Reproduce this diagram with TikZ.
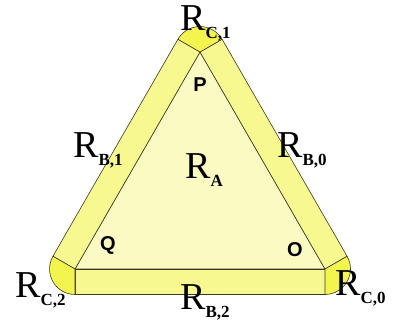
\documentclass[tikz,border=0pt]{standalone}
\usepackage{fontspec}
\setmainfont{Liberation Serif}
\newfontfamily\lblsans{Liberation Sans}
\usepackage{xcolor}
\usepackage{tikz}
\usetikzlibrary{calc}
\definecolor{innerYellow}{HTML}{FAFAC2}
\definecolor{bandYellow}{HTML}{F8F890}
\definecolor{capYellow}{HTML}{F4F44E}
\definecolor{edgeDark}{HTML}{3A3A20}
\newcommand{\rlab}[2]{{\fontsize{38}{38}\selectfont R}\raisebox{-8pt}{\fontsize{17}{17}\selectfont\bfseries #2}}
\tikzset{
  innerpiece/.style={draw=edgeDark, fill=innerYellow, line width=0.6pt, line join=round},
  bandpiece/.style={draw=edgeDark, fill=bandYellow, line width=0.6pt, line join=round},
  cappiece/.style={draw=edgeDark, fill=capYellow, line width=0.6pt, line join=round},
  rlabel/.style={anchor=base west, inner sep=0pt, text height=26pt, text depth=12pt, text=black},
  vlabel/.style={font=\lblsans\fontsize{20}{20}\selectfont\bfseries, inner sep=0pt, text=black},
}
\begin{document}
\begin{tikzpicture}[x=1pt,y=1pt]
  \useasboundingbox (0,0) rectangle (395,329);
  \coordinate (Q) at (75,60);
  \coordinate (O) at (325,60);
  \coordinate (P) at (200,277);

  % region A
  \draw[innerpiece] (Q) -- (O) -- (P) -- cycle;

  % edge bands
  \draw[bandpiece] (Q) -- (O) -- ($(O)+(-90:25.5pt)$) -- ($(Q)+(-90:25.5pt)$) -- cycle;
  \draw[bandpiece] (O) -- (P) -- ($(P)+(30:25.5pt)$) -- ($(O)+(30:25.5pt)$) -- cycle;
  \draw[bandpiece] (P) -- (Q) -- ($(Q)+(150:25.5pt)$) -- ($(P)+(150:25.5pt)$) -- cycle;

  % corner caps
  \draw[cappiece] (Q) -- ++(150:25.5pt) arc[start angle=150, end angle=270, radius=25.5pt] -- cycle;
  \draw[cappiece] (O) -- ++(-90:25.5pt) arc[start angle=-90, end angle=30, radius=25.5pt] -- cycle;
  \draw[cappiece] (P) -- ++(30:25.5pt) arc[start angle=30, end angle=150, radius=25.5pt] -- cycle;

  % region labels
  \node[rlabel] (rc1) at (180,298) {\rlab{R}{C,1}};
  \node[rlabel] (rc2) at (15,32) {\rlab{R}{C,2}};
  \node[rlabel] (rc0) at (335,34) {\rlab{R}{C,0}};
  \node[rlabel] (rb1) at (73,171) {\rlab{R}{B,1}};
  \node[rlabel] (rb0) at (277,171) {\rlab{R}{B,0}};
  \node[rlabel] (rb2) at (180,20) {\rlab{R}{B,2}};
  \node[rlabel] (ra) at (185,150) {\rlab{R}{A}};

  % vertex labels
  \node[vlabel] (lp) at (200,244) {P};
  \node[vlabel] (lq) at (108,84) {Q};
  \node[vlabel] (lo) at (295,79) {O};
\end{tikzpicture}
\end{document}
